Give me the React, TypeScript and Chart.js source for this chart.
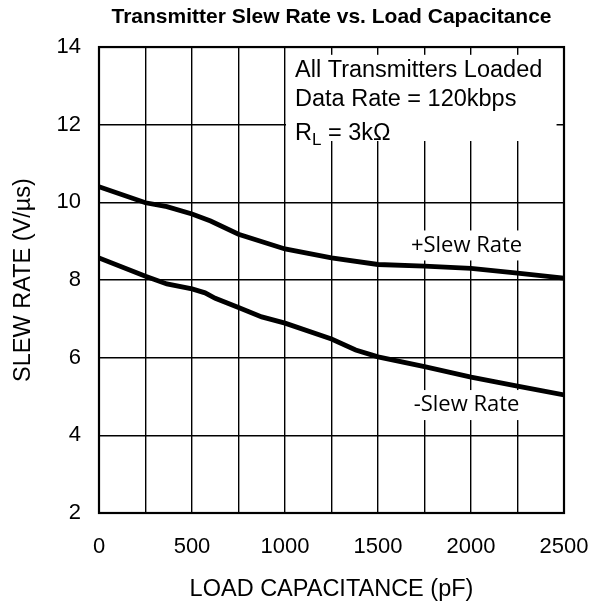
import React, { useEffect, useRef } from 'react';
import { Chart, registerables } from 'chart.js';

Chart.register(...registerables);

// ---- Data ----
const plusCap = [0, 250, 365, 500, 600, 750, 1000, 1250, 1500, 1750, 2000, 2250, 2500];
const plusSlew = [10.4, 9.99, 9.89, 9.7, 9.52, 9.18, 8.8, 8.57, 8.4, 8.36, 8.3, 8.18, 8.05];
const minusCap = [0, 250, 365, 500, 570, 625, 750, 875, 1000, 1250, 1380, 1500, 1750, 2000, 2250, 2500];
const minusSlew = [8.57, 8.1, 7.9, 7.77, 7.67, 7.53, 7.29, 7.05, 6.89, 6.48, 6.2, 6.02, 5.77, 5.5, 5.27, 5.04];

const xLabelTicks = [0, 500, 1000, 1500, 2000, 2500];
const yLabelTicks = [2, 4, 6, 8, 10, 12, 14];

const chartTitle = 'Transmitter Slew Rate vs. Load Capacitance';
const xTitle = 'LOAD CAPACITANCE (pF)';
const yTitle = 'SLEW RATE (V/\u00B5s)';
const noteLines = ['All Transmitters Loaded', 'Data Rate = 120kbps'];
const plusLabel = '+Slew Rate';
const minusLabel = '-Slew Rate';

const SANS = '"Liberation Sans", Arial, sans-serif';
const LABEL_FONT = '"Open Sans", "Noto Sans", sans-serif';

const annotations = {
  id: 'annotations',
  beforeDatasetsDraw(chart: any) {
    const { ctx, chartArea, scales } = chart;
    const x = scales.x;
    const y = scales.y;
    ctx.save();

    // Note box (white, hides grid)
    const bx0 = x.getPixelForValue(1000) + 1;
    const bx1 = x.getPixelForValue(2460);
    const by0 = y.getPixelForValue(13.8);
    const by1 = y.getPixelForValue(11.58);
    ctx.fillStyle = '#fff';
    ctx.fillRect(bx0, by0, bx1 - bx0, by1 - by0);

    ctx.fillStyle = '#000';
    ctx.textAlign = 'left';
    ctx.textBaseline = 'alphabetic';
    ctx.font = '23.5px ' + SANS;
    const tx = x.getPixelForValue(1000) + 10;
    ctx.fillText(noteLines[0], tx, y.getPixelForValue(13.23));
    ctx.fillText(noteLines[1], tx, y.getPixelForValue(12.48));
    const rb = y.getPixelForValue(11.6);
    let cx = tx;
    ctx.fillText('R', cx, rb);
    cx += ctx.measureText('R').width;
    ctx.font = '17px ' + SANS;
    ctx.fillText('L', cx, rb + 5);
    cx += ctx.measureText('L').width;
    ctx.font = '23.5px ' + SANS;
    ctx.fillText(' = 3k\u03A9', cx, rb);

    // Series labels with white background
    ctx.font = '22px ' + LABEL_FONT;
    ctx.textAlign = 'center';
    ctx.textBaseline = 'middle';
    const drawLabel = (text: string, vx: number, vy: number) => {
      const px = x.getPixelForValue(vx);
      const py = y.getPixelForValue(vy);
      const w = ctx.measureText(text).width + 16;
      ctx.fillStyle = '#fff';
      ctx.fillRect(px - w / 2, py - 15, w, 30);
      ctx.fillStyle = '#000';
      ctx.fillText(text, px, py);
    };
    drawLabel(plusLabel, 1976, 8.89);
    drawLabel(minusLabel, 1976, 4.78);

    // Plot border
    ctx.strokeStyle = '#000';
    ctx.lineWidth = 2.2;
    ctx.strokeRect(chartArea.left, chartArea.top, chartArea.right - chartArea.left, chartArea.bottom - chartArea.top);
    ctx.restore();
  },
};

export default function App() {
  const canvasRef = useRef<HTMLCanvasElement | null>(null);

  useEffect(() => {
    if (!canvasRef.current) return;
    const chart = new Chart(canvasRef.current, {
      type: 'line',
      data: {
        datasets: [
          {
            label: plusLabel,
            data: plusCap.map((c, i) => ({ x: c, y: plusSlew[i] })),
            borderColor: '#000',
            borderWidth: 4.8,
            pointRadius: 0,
            tension: 0,
            fill: false,
          },
          {
            label: minusLabel,
            data: minusCap.map((c, i) => ({ x: c, y: minusSlew[i] })),
            borderColor: '#000',
            borderWidth: 4.8,
            pointRadius: 0,
            tension: 0,
            fill: false,
          },
        ],
      },
      options: {
        responsive: false,
        animation: false,
        layout: { padding: { left: 0, right: 28, top: 0, bottom: 0 } },
        plugins: {
          legend: { display: false },
          tooltip: { enabled: false },
          title: {
            display: true,
            text: chartTitle,
            color: '#000',
            fullSize: false,
            font: { family: SANS, size: 21, weight: 'bold', lineHeight: 0.85 },
            padding: { top: 0, bottom: 21.2 },
          },
        },
        scales: {
          x: {
            type: 'linear',
            min: 0,
            max: 2500,
            afterFit: (s: any) => {
              s.height = 88;
              s.paddingLeft = 0;
              s.paddingRight = 0;
            },
            afterBuildTicks: (s: any) => {
              const t: any[] = [];
              for (let i = 0; i <= 10; i++) t.push({ value: i * 250 });
              s.ticks = t;
            },
            ticks: {
              autoSkip: false,
              maxRotation: 0,
              padding: 21,
              color: '#000',
              font: { family: SANS, size: 22 },
              callback: (v: any) => (xLabelTicks.includes(Number(v)) ? String(v) : ''),
            },
            grid: { color: '#000', lineWidth: 1.4, drawTicks: false },
            border: { display: true, color: '#000', width: 2 },
            title: {
              display: true,
              text: xTitle,
              color: '#000',
              font: { family: SANS, size: 23.5, lineHeight: 1 },
              padding: { top: 0, bottom: 0 },
            },
          },
          y: {
            type: 'linear',
            min: 2,
            max: 14,
            afterFit: (s: any) => {
              s.width = 91;
              s.paddingTop = 0;
              s.paddingBottom = 0;
            },
            afterBuildTicks: (s: any) => {
              s.ticks = yLabelTicks.map((v) => ({ value: v }));
            },
            ticks: {
              autoSkip: false,
              padding: 18,
              color: '#000',
              font: { family: SANS, size: 22 },
            },
            grid: { color: '#000', lineWidth: 1.4, drawTicks: false },
            border: { display: true, color: '#000', width: 2 },
            title: {
              display: true,
              text: yTitle,
              color: '#000',
              font: { family: SANS, size: 23.5, lineHeight: 1 },
              padding: { top: 4, bottom: 0 },
            },
          },
        },
      } as any,
      plugins: [annotations],
    });
    return () => chart.destroy();
  }, []);

  return (
    <canvas
      ref={canvasRef}
      width={584}
      height={593}
      style={{ display: 'block', width: 584, height: 593 }}
    />
  );
}
